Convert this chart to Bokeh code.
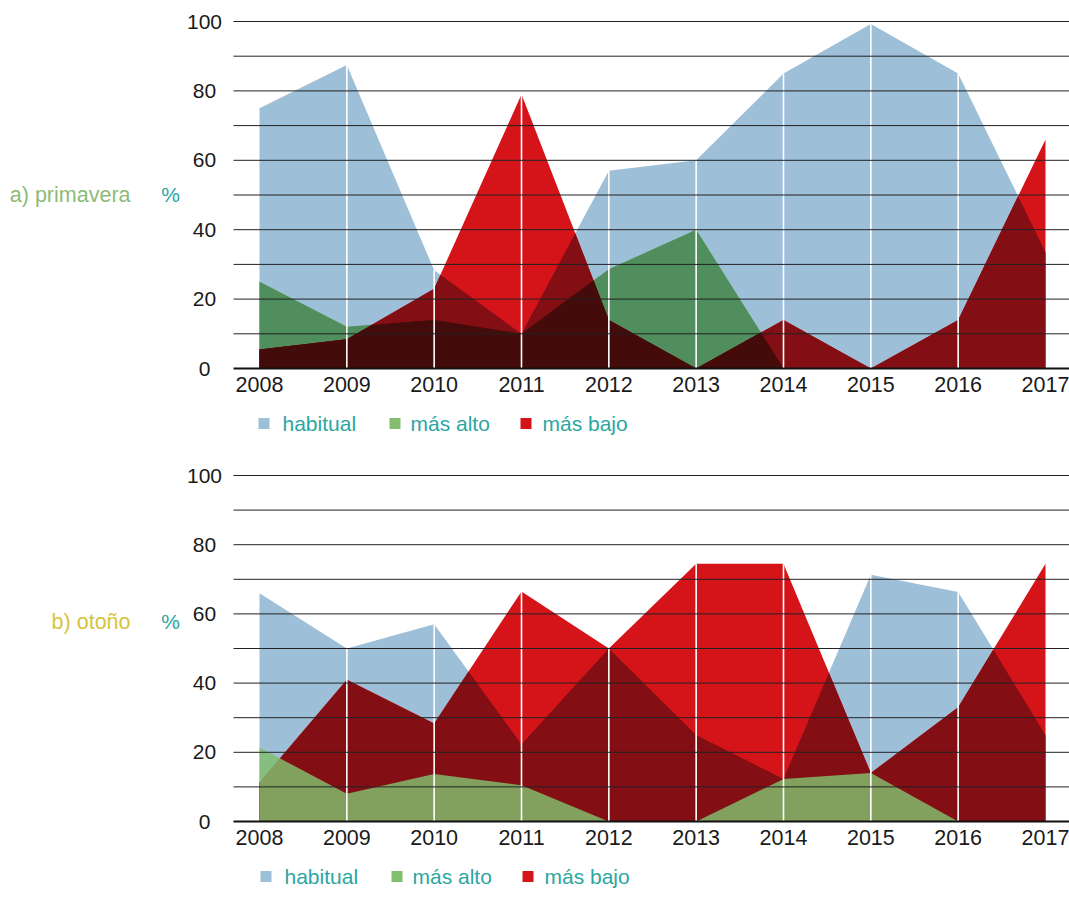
import numpy as np
from bokeh.plotting import figure
from bokeh.models import Range1d
from bokeh.core.properties import value
from bokeh.layouts import column
from bokeh.embed import file_html
from bokeh.resources import INLINE

# ---------------- data ----------------
years = [2008, 2009, 2010, 2011, 2012, 2013, 2014, 2015, 2016, 2017]

# a) primavera (%)
hab_prim = [75, 87.5, 28.3, 10, 57, 60, 85, 99.3, 85, 33.5]
alto_prim = [25, 12, 14, 10, 28.6, 40, 0, 0, 0, 0]
bajo_prim = [5.5, 8.4, 23, 79, 14, 0, 14, 0, 14, 66]

# b) otoño (%)
hab_oto = [66, 50, 57, 22.3, 50, 25, 12.3, 71.3, 66.3, 25]
alto_oto = [21.4, 8, 13.7, 10.5, 0, 0, 12.3, 14, 0, 0]
bajo_oto = [11.3, 41, 28.3, 66.5, 50, 74.5, 74.5, 14, 33, 74.5]

series_names = ["habitual", "más alto", "más bajo"]
y_ticks = [0, 20, 40, 60, 80, 100]
grid_ticks = [10, 20, 30, 40, 50, 60, 70, 80, 90, 100]

# ---------------- style ----------------
FONT = "Liberation Sans"
BLUE = (157, 191, 216)
GREEN = (130, 190, 110)
RED = (213, 20, 25)
TEAL = "#2ba6a3"
TICK_COLOR = "#1a1a1a"
FIG_W = 1069
PAGE_MARGIN = 0


def hexc(c):
    return "#%02x%02x%02x" % tuple(int(round(v)) for v in c)


def mult(*cols):
    out = [255.0, 255.0, 255.0]
    for c in cols:
        out = [o * v / 255.0 for o, v in zip(out, c)]
    return out


def env_min(x1, y1, x2, y2):
    """Lower envelope of two piecewise-linear series (crossings inserted)."""
    xs = np.union1d(np.asarray(x1, float), np.asarray(x2, float))
    a = np.interp(xs, x1, y1)
    b = np.interp(xs, x2, y2)
    ox, oy = [xs[0]], [min(a[0], b[0])]
    for i in range(1, len(xs)):
        d0 = a[i - 1] - b[i - 1]
        d1 = a[i] - b[i]
        if d0 * d1 < 0:
            t = d0 / (d0 - d1)
            ox.append(xs[i - 1] + t * (xs[i] - xs[i - 1]))
            oy.append(a[i - 1] + t * (a[i] - a[i - 1]))
        ox.append(xs[i])
        oy.append(min(a[i], b[i]))
    return np.array(ox), np.array(oy)


# horizontal mapping (page pixels): 2008 at 259, 2017 at 1045
PX_PER_YEAR = (1045 - 259) / 9.0


def px_to_year(px):
    return 2008 + (px - 259) / PX_PER_YEAR


def make_panel(hab, alto, bajo, title, title_color, fig_top, fig_h,
               y0_px, y100_px, title_px, dx, mode):
    ppu = (y0_px - y100_px) / 100.0

    def py(px):  # page pixel row -> data value
        return (y0_px - px) / ppu

    p = figure(width=FIG_W, height=fig_h, output_backend="svg",
               toolbar_location=None, x_axis_type=None, y_axis_type=None,
               x_range=Range1d(px_to_year(PAGE_MARGIN),
                               px_to_year(PAGE_MARGIN + FIG_W)),
               y_range=Range1d(py(fig_top + fig_h), py(fig_top)),
               min_border=0)
    p.outline_line_color = None
    p.grid.visible = False
    p.background_fill_color = "white"
    p.border_fill_color = "white"

    x = np.array(years, float)
    hb = np.array(hab, float)
    al = np.array(alto, float)
    bj = np.array(bajo, float)

    p.varea(x=x, y1=0, y2=hb, fill_color=hexc(BLUE))
    if mode == "multiply":
        p.varea(x=x, y1=0, y2=al, fill_color=hexc(GREEN))
        p.varea(x=x, y1=0, y2=bj, fill_color=hexc(RED))
        bx, by = env_min(x, hb, x, al)
        p.varea(x=bx, y1=0, y2=by, fill_color=hexc(mult(BLUE, GREEN)))
        rx, ry = env_min(x, hb, x, bj)
        p.varea(x=rx, y1=0, y2=ry, fill_color=hexc(mult(BLUE, RED)))
        gx, gy = env_min(x, al, x, bj)
        p.varea(x=gx, y1=0, y2=gy, fill_color=hexc(mult(GREEN, RED)))
        tx, ty = env_min(bx, by, x, bj)
        p.varea(x=tx, y1=0, y2=ty, fill_color=hexc(mult(BLUE, GREEN, RED)))
    else:
        p.varea(x=x, y1=0, y2=bj, fill_color=hexc(RED))
        rx, ry = env_min(x, hb, x, bj)
        p.varea(x=rx, y1=0, y2=ry, fill_color=hexc(mult(BLUE, RED)))
        p.varea(x=x, y1=0, y2=al, fill_color=hexc(GREEN), fill_alpha=0.84)

    # white drop lines at the inner years
    tops = np.maximum(np.maximum(hb, al), bj)
    p.segment(x0=x[1:-1], y0=0, x1=x[1:-1], y1=tops[1:-1],
              line_color="white", line_width=1.6)

    # horizontal grid lines over the areas
    gx0 = px_to_year(233)
    gx1 = px_to_year(PAGE_MARGIN + FIG_W)
    gt = np.array(grid_ticks, float)
    p.segment(x0=[gx0] * len(gt), y0=gt, x1=[gx1] * len(gt), y1=gt,
              line_color="#222222", line_width=1)
    # x axis line
    p.segment(x0=[gx0], y0=[0], x1=[gx1], y1=[0],
              line_color="#111111", line_width=2.2)

    # x tick labels
    p.text(x=x, y=[py(y0_px + 16)] * len(years), text=[str(v) for v in years],
           text_align="center", text_baseline="middle",
           text_font=value(FONT), text_font_size="21.5px",
           text_color=TICK_COLOR)
    # y tick labels (centred)
    p.text(x=[px_to_year(204)] * len(y_ticks), y=y_ticks,
           text=[str(v) for v in y_ticks], text_align="center",
           text_baseline="middle", text_font=value(FONT),
           text_font_size="21px", text_color=TICK_COLOR)

    # side labels
    p.text(x=[px_to_year(130)], y=[py(title_px)], text=[title],
           text_align="right", text_baseline="middle", text_font=value(FONT),
           text_font_size="21.5px", text_color=title_color)
    p.text(x=[px_to_year(170)], y=[py(title_px)], text=["%"],
           text_align="center", text_baseline="middle", text_font=value(FONT),
           text_font_size="21px", text_color=TEAL)

    # legend (squares + labels)
    leg_y = py(y0_px + 55)
    sq_px = [263.5 + dx, 394.5 + dx, 525.5 + dx]
    lab_px = [282 + dx, 410 + dx, 542 + dx]
    p.scatter(x=[px_to_year(v) for v in sq_px], y=[leg_y] * 3, marker="square",
              size=11, line_color=None,
              fill_color=[hexc(BLUE), hexc(GREEN), hexc(RED)])
    p.text(x=[px_to_year(v) for v in lab_px], y=[leg_y] * 3,
           text=series_names, text_align="left", text_baseline="middle",
           text_font=value(FONT), text_font_size="21px", text_color=TEAL)
    return p


p1 = make_panel(hab_prim, alto_prim, bajo_prim, "a) primavera", "#8cbb78",
                0, 445, 368, 21, 194, 0, "multiply")
p2 = make_panel(hab_oto, alto_oto, bajo_oto, "b) otoño", "#d6c43c",
                445, 456, 821, 475, 621, 2, "overlay")

layout = column(p1, p2, spacing=0)
open("out.html", "w").write(file_html(layout, INLINE))
